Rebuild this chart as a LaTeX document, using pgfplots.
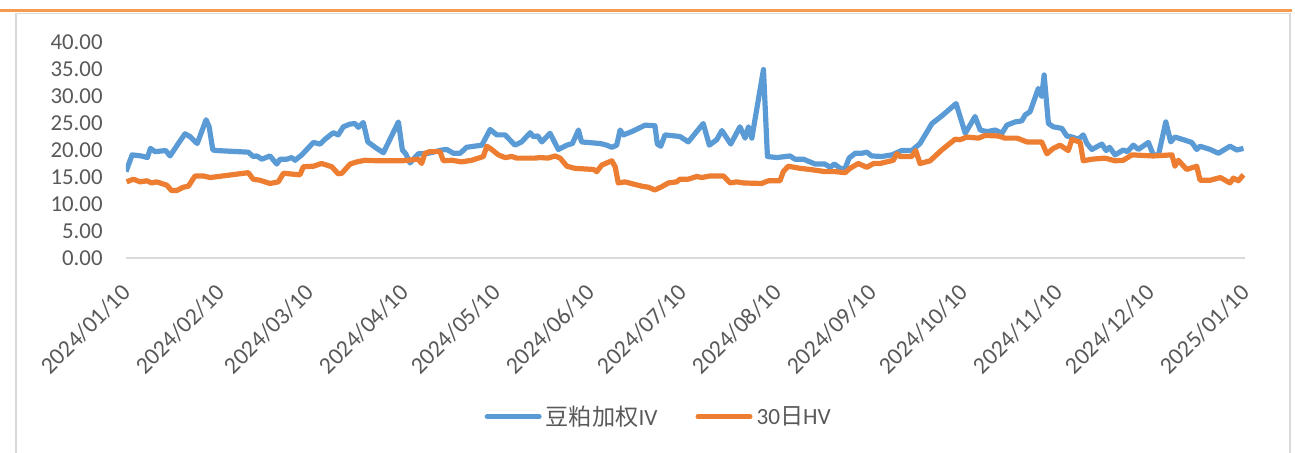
\documentclass[border=0pt]{standalone}
\usepackage{fontspec}
\setmainfont{Carlito}
\newfontfamily\cjk{Noto Sans CJK SC}
\usepackage{pgfplots}
\pgfplotsset{compat=1.18}
\definecolor{ivblue}{HTML}{5B9BD5}
\definecolor{hvorange}{HTML}{ED7D31}
\definecolor{txt}{HTML}{595959}
\definecolor{axisgray}{HTML}{D9D9D9}
\definecolor{topor}{HTML}{F59B50}
\begin{document}
\begin{tikzpicture}
\useasboundingbox (0pt,0pt) rectangle (647.5pt,226pt);
\draw[axisgray, line width=0.75pt] (8pt,-3pt) -- (8pt,219.35pt) -- (645pt,219.35pt) -- (645pt,-3pt);
\draw[topor, line width=1.5pt] (0pt,220.65pt) -- (646pt,220.65pt);
\begin{axis}[
  at={(63pt,97pt)}, anchor=south west,
  scale only axis, width=559.5pt, height=108pt,
  xmin=0, xmax=366, ymin=0, ymax=40,
  enlargelimits=false,
  axis x line=bottom, axis y line=left,
  y axis line style={draw=none},
  x axis line style={axisgray, line width=0.75pt, -},
  major tick length=0pt,
  xtick={0,31,60,91,121,152,182,213,244,274,305,335,366},
  xticklabels={2024/01/10,2024/02/10,2024/03/10,2024/04/10,2024/05/10,2024/06/10,2024/07/10,2024/08/10,2024/09/10,2024/10/10,2024/11/10,2024/12/10,2025/01/10},
  x tick label style={xshift=-3pt, yshift=-12pt, rotate=45, anchor=north east, inner sep=0pt, font=\fontsize{11.9}{13}\selectfont, text=txt},
  ytick={0,5,...,40},
  y tick label style={anchor=east, inner sep=0pt, xshift=-11.5pt, font=\fontsize{11.4}{13}\selectfont, text=txt,
    /pgf/number format/.cd, fixed, fixed zerofill, precision=2, assume math mode=true},
  legend columns=2,
  legend style={at={(axis description cs:0.477,-0.735)}, anchor=center, draw=none, fill=none,
    font=\fontsize{11.6}{13}\selectfont, text=txt, inner sep=0pt,
    /tikz/every even column/.append style={column sep=17pt}},
  legend image code/.code={\draw[#1, line width=2.5pt, line cap=round] (0pt,0pt) -- (26pt,0pt);},
  every axis plot/.append style={line width=2.6pt, line join=round, no markers},
]
\addplot[ivblue] coordinates {
(0,16.0)(2,19.1)(5,18.9)(7,18.6)(8,20.3)(9.5,19.7)(13,19.9)(14.4,18.9)(17.1,21.2)(19.3,23.0)(20.9,22.5)(23.3,21.2)(26.2,25.6)(27.2,24.3)(28.4,20.0)(29.7,19.9)(40,19.6)(41.6,18.8)(42.8,18.9)(44.4,18.3)(47.1,18.9)(49.3,17.4)(50.4,18.3)(52.6,18.3)(54.2,18.6)(55.3,18.1)(57.5,19.1)(61.3,21.4)(63.5,21.1)(65.1,22.0)(67.8,23.2)(69.4,22.8)(71.1,24.3)(73.3,24.8)(74.9,24.9)(76.0,24.2)(77.6,25.1)(79.1,21.5)(82.0,20.3)(84.2,19.5)(89.1,25.2)(90.4,20.0)(91.5,19.3)(92.9,17.6)(95.6,19.3)(98.9,19.4)(103.3,20.0)(104.9,20.1)(107.1,19.4)(109.3,19.4)(111.4,20.5)(116.4,20.9)(119.1,23.8)(121.3,22.8)(124.0,22.8)(127.2,20.9)(129.4,21.5)(132.2,23.2)(133.2,22.5)(134.7,22.6)(136.0,21.5)(138.7,23.1)(141.4,20.1)(144.2,20.9)(146.0,21.2)(148.0,23.7)(149.0,21.5)(155.1,21.2)(157.2,20.9)(158.9,20.5)(160.5,20.9)(161.6,23.7)(162.7,22.8)(165.4,23.4)(167.6,24.0)(169.8,24.6)(173.0,24.5)(173.8,21.1)(174.9,20.7)(176.3,22.8)(181.2,22.5)(183.9,21.5)(188.8,24.9)(190.8,20.9)(193.2,21.9)(194.9,23.6)(197.8,21.1)(200.8,24.3)(202.5,22.2)(203.6,24.3)(204.7,22.2)(208.5,34.9)(209.8,18.8)(212.9,18.6)(217.2,18.9)(218.8,18.3)(221.6,18.3)(223.7,17.8)(225.4,17.4)(228.6,17.4)(230.3,16.8)(231.7,17.4)(233.6,16.6)(235.2,16.6)(236.5,18.5)(238.5,19.4)(240.7,19.4)(242.3,19.6)(243.9,18.9)(247.2,18.8)(250.5,19.1)(253.7,19.9)(257.0,19.9)(259.7,21.2)(263.6,24.9)(266.8,26.3)(271.5,28.6)(274.5,23.1)(277.7,26.2)(279.4,23.7)(281.6,23.4)(284.3,23.7)(286.5,23.1)(288.1,24.6)(290.8,25.2)(293.0,25.4)(294.1,26.5)(295.7,27.1)(298.4,31.4)(299.5,29.9)(300.3,33.9)(301.7,24.9)(303.3,24.3)(306.1,24.0)(307.7,22.6)(309.4,22.4)(311.5,22.0)(313.1,22.8)(314.3,21.2)(315.9,20.1)(319.2,21.1)(320.6,19.9)(321.7,20.5)(323.5,19.1)(326.2,20.0)(327.5,19.7)(329.5,20.9)(331.1,20.1)(334.4,21.4)(336.0,19.1)(337.7,19.1)(340.1,25.2)(341.7,21.5)(343.1,22.4)(345.9,21.9)(348.6,21.4)(350.2,20.1)(351.3,20.7)(354.6,20.1)(357.3,19.4)(361.1,20.7)(363.3,20.0)(365.5,20.3)
};
\addlegendentry{{\cjk 豆粕加权}IV}
\addplot[hvorange] coordinates {
(0.2,14.1)(2.4,14.6)(4.6,14.1)(6.8,14.3)(8.4,13.9)(10.0,14.1)(13.3,13.5)(14.9,12.5)(16.6,12.5)(18.7,13.1)(20.4,13.3)(22.6,15.2)(25.3,15.2)(27.5,14.9)(40.0,15.8)(41.6,14.6)(43.8,14.4)(47.1,13.8)(49.8,14.1)(51.5,15.7)(56.9,15.4)(58.0,16.9)(61.3,17.0)(64.0,17.5)(67.3,16.9)(69.4,15.6)(70.6,15.7)(73.3,17.4)(75.5,17.8)(78.2,18.1)(82.5,18.0)(90.2,18.0)(95.6,18.3)(96.7,17.5)(97.8,19.4)(99.4,19.7)(102.7,19.7)(103.8,18.0)(106.5,18.1)(109.8,17.8)(113.1,18.1)(116.9,18.8)(118.0,20.7)(119.6,20.1)(121.8,19.1)(124.0,18.6)(126.2,18.8)(127.8,18.5)(133.8,18.5)(135.4,18.6)(138.1,18.5)(140.3,18.9)(142.0,18.5)(144.2,17.0)(146.9,16.6)(152.9,16.4)(154.0,16.0)(155.6,17.2)(157.2,17.6)(158.9,18.0)(160.0,16.9)(161.0,13.9)(163.2,14.1)(165.9,13.7)(168.7,13.3)(170.9,13.1)(173.0,12.6)(175.2,13.2)(177.4,13.9)(180.1,14.1)(181.2,14.6)(183.9,14.6)(186.7,15.1)(188.3,14.9)(191.0,15.2)(195.4,15.2)(197.6,13.9)(199.8,14.1)(201.9,13.9)(207.9,13.8)(210.1,14.3)(213.9,14.3)(215.0,16.0)(216.6,17.0)(220.5,16.6)(223.7,16.4)(228.6,16.0)(231.9,16.0)(235.2,15.8)(236.8,16.6)(239.5,17.5)(242.3,16.8)(244.5,17.5)(246.6,17.5)(251.0,18.1)(252.1,19.3)(253.2,18.8)(257.0,18.8)(258.3,19.9)(259.7,17.5)(263.0,18.0)(266.8,20.0)(271.2,22.0)(272.8,21.9)(275.0,22.4)(278.8,22.2)(281.0,22.7)(285.3,22.6)(287.5,22.2)(291.4,22.2)(292.4,22.0)(294.6,21.5)(299.5,21.5)(301.2,19.3)(303.3,20.3)(305.5,20.9)(308.2,19.9)(309.4,22.0)(312.1,21.4)(313.1,18.0)(315.9,18.3)(320.2,18.5)(323.5,18.0)(326.2,18.1)(329.0,19.1)(336.0,18.9)(342.1,19.1)(343.1,17.0)(344.2,18.1)(346.9,16.4)(350.2,17.0)(351.3,14.4)(354.6,14.4)(357.9,14.9)(361.1,13.9)(362.2,14.8)(363.8,14.3)(365.5,15.4)
};
\addlegendentry{30{\cjk 日}HV}
\end{axis}
\end{tikzpicture}
\end{document}
